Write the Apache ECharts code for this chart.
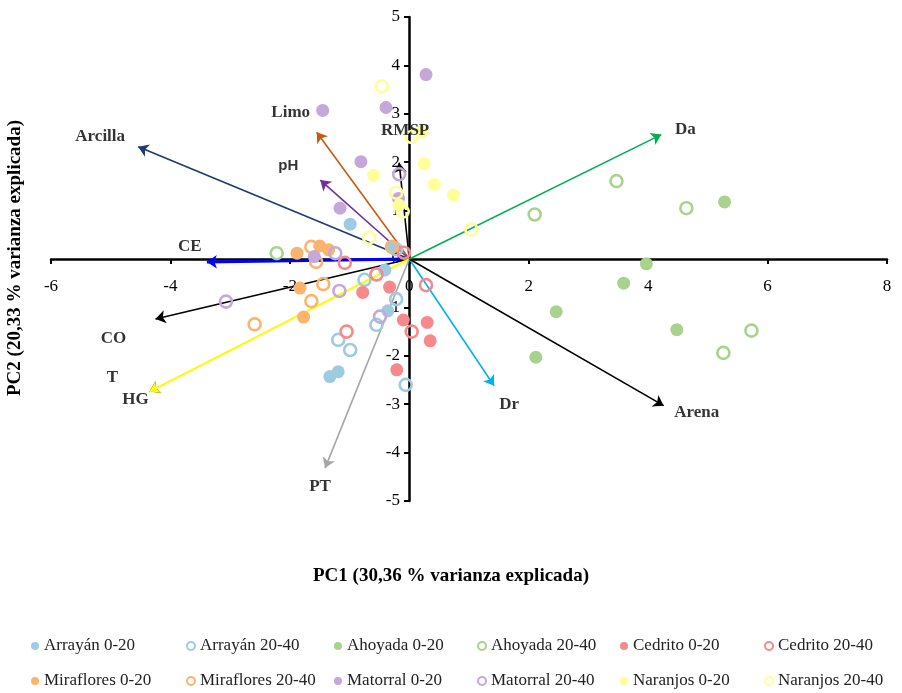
<!DOCTYPE html>
<html><head><meta charset="utf-8">
<script src="https://cdn.jsdelivr.net/npm/echarts@6/dist/echarts.min.js"></script>
<style>html,body{margin:0;padding:0;background:#fff}#c{width:902px;height:693px}</style>
</head><body><div id="c"></div>
<script>
// ---- Data (PC1, PC2 scores) ----
const arrayan020 = [[-0.99,0.72],[-0.28,0.25],[-0.41,-0.23],[-0.36,-1.07],[-1.33,-2.43],[-1.19,-2.33]];
const arrayan2040 = [[-0.22,0.20],[-0.75,-0.43],[-0.22,-0.83],[-0.55,-1.36],[-1.19,-1.67],[-0.99,-1.88],[-0.06,-2.60]];
const ahoyada020 = [[5.28,1.18],[3.97,-0.10],[3.59,-0.50],[2.46,-1.09],[4.48,-1.46],[2.12,-2.03]];
const ahoyada2040 = [[3.47,1.61],[4.64,1.05],[2.10,0.92],[5.73,-1.48],[5.26,-1.94],[-2.22,0.12]];
const cedrito020 = [[-0.78,-0.69],[-0.33,-0.58],[-0.10,-1.26],[0.30,-1.31],[0.35,-1.69],[-0.21,-2.29]];
const cedrito2040 = [[-0.09,0.13],[-1.08,-0.08],[-0.55,-0.32],[0.28,-0.54],[0.04,-1.50],[-1.05,-1.50]];
const miraflores020 = [[-1.88,0.12],[-1.50,0.27],[-1.35,0.19],[-1.83,-0.60],[-1.77,-1.20]];
const miraflores2040 = [[-1.64,0.25],[-1.56,-0.06],[-1.44,-0.52],[-1.64,-0.87],[-2.59,-1.35],[-0.29,0.25]];
const matorral020 = [[0.28,3.81],[-1.45,3.07],[-0.39,3.13],[-0.81,2.01],[-1.16,1.05],[-1.59,0.05],[-0.18,1.25]];
const matorral2040 = [[-0.17,1.75],[-1.24,0.12],[-1.17,-0.66],[-3.07,-0.88],[-0.49,-1.19]];
const naranjos020 = [[0.21,2.62],[0.25,1.97],[0.42,1.54],[0.74,1.32],[-0.60,1.73],[-0.17,1.11]];
const naranjos2040 = [[-0.46,3.57],[0.04,2.52],[-0.22,1.37],[-0.11,0.98],[-0.67,0.44],[1.04,0.61]];

// Loadings (arrow ends)
const varNames = ['Arcilla','Limo','pH','RMSP','CE','CO','T','HG','PT','Dr','Arena','Da'];
const varPC1 =   [-4.54, -1.55, -1.49, -0.17, -3.39, -4.25, -4.35, -4.35, -1.41, 1.42, 4.26, 4.22];
const varPC2 =   [ 2.32,  2.62,  1.63,  1.99, -0.06, -1.24, -2.74, -2.74, -4.32, -2.62, -3.03, 2.57];

// Axis ticks
const xTicks = [-6,-4,-2,0,2,4,6,8];
const yTicks = [-5,-4,-3,-2,-1,0,1,2,3,4,5];

// ---- Styles ----
const groups = [
  ['Arrayán 0-20', arrayan020, '#9FCBE2', true],
  ['Arrayán 20-40', arrayan2040, '#9FCBE2', false],
  ['Ahoyada 0-20', ahoyada020, '#A8D38D', true],
  ['Ahoyada 20-40', ahoyada2040, '#A8D38D', false],
  ['Cedrito 0-20', cedrito020, '#F7898C', true],
  ['Cedrito 20-40', cedrito2040, '#F7898C', false],
  ['Miraflores 0-20', miraflores020, '#FBB46C', true],
  ['Miraflores 20-40', miraflores2040, '#FBB46C', false],
  ['Matorral 0-20', matorral020, '#C4A8D9', true],
  ['Matorral 20-40', matorral2040, '#C4A8D9', false],
  ['Naranjos 0-20', naranjos020, '#FFFF99', true],
  ['Naranjos 20-40', naranjos2040, '#FFFF99', false]
];
const arrowColor = {Arcilla:'#1F3A6E',Limo:'#C55A11',pH:'#7030A0',RMSP:'#000000',CE:'#0000FF',CO:'#000000',T:'#000000',HG:'#FFFF00',PT:'#A6A6A6',Dr:'#00B0F0',Arena:'#000000',Da:'#00B050'};
const arrowWidth = {CE:3, T:1, HG:2};
const labelOffset = {Arcilla:[-38,-10],Limo:[-26,-20],pH:[-32,-14],RMSP:[6,-32],CE:[-17,-15],CO:[-42,20],T:[-37,-14],HG:[-14,8],PT:[-5,19],Dr:[15,19],Arena:[33,7],Da:[24,-5]};

const serif = '"Liberation Serif", "DejaVu Serif", serif';

const series = [];
series.push({
  type:'lines', coordinateSystem:'cartesian2d', z:2, silent:true,
  symbol:['none','arrow'], symbolSize:10,
  data: varNames.map((n,i)=>({name:n, coords:[[0,0],[varPC1[i],varPC2[i]]],
    lineStyle:{color:arrowColor[n], width:arrowWidth[n]||1.6, opacity:1}}))
});
groups.forEach(g=>{
  series.push({
    name:g[0], type:'scatter', z:4, data:g[1], symbol:'circle',
    symbolSize: g[3] ? 13 : 12,
    itemStyle: g[3] ? {color:g[2], opacity:1} : {color:'rgba(255,255,255,0)', borderColor:g[2], borderWidth:2.6, opacity:1}
  });
});
series.push({
  type:'scatter', z:5, silent:true, symbolSize:1, itemStyle:{color:'rgba(0,0,0,0)'},
  data: varNames.map((n,i)=>({name:n, value:[varPC1[i],varPC2[i]],
    label:{show:true, position:'inside', offset:labelOffset[n], formatter:'{b}',
      fontFamily: n==='pH' ? '"Liberation Sans", Arial, sans-serif' : serif,
      fontWeight:'bold', fontSize: n==='pH'?15:17, color:'#000'}}))
});

const legendCols = [35,190,338,481,624,768];
const legendRows = [646,681];
const legends = groups.map((g,i)=>({
  orient:'horizontal', left:legendCols[i%6]-4, top:legendRows[Math.floor(i/6)]-9,
  padding:0, itemWidth:8, itemHeight:8, icon:'circle', selectedMode:false,
  textStyle:{fontFamily:serif, fontSize:17, color:'#222', lineHeight:18},
  data:[g[0]]
}));

const chart = echarts.init(document.getElementById('c'));
chart.setOption({
  animation:false,
  backgroundColor:'#fff',
  grid:{left:51, right:15, top:17, bottom:192, containLabel:false},
  xAxis:{type:'value', min:xTicks[0], max:xTicks[xTicks.length-1], interval:2,
    position:'bottom', offset:-242,
    splitLine:{show:false},
    axisLine:{onZero:false, lineStyle:{color:'#000', width:2.5}},
    axisTick:{show:true, length:5, lineStyle:{color:'#000', width:2}},
    axisLabel:{margin:19, fontFamily:serif, fontSize:17, color:'#000'}},
  yAxis:{type:'value', min:yTicks[0], max:yTicks[yTicks.length-1], interval:1,
    position:'left', offset:-358,
    splitLine:{show:false},
    axisLine:{onZero:false, lineStyle:{color:'#000', width:2.5}},
    axisTick:{show:true, length:5, lineStyle:{color:'#000', width:2}},
    axisLabel:{margin:9, fontFamily:serif, fontSize:17, color:'#000'}},
  legend: legends,
  graphic:[
    {type:'text', left:'center', top:567, style:{text:'PC1 (30,36 % varianza explicada)', font:'bold 19px '+serif, fill:'#000'}},
    {type:'text', x:6, y:258, rotation:Math.PI/2, style:{text:'PC2 (20,33 % varianza explicada)', font:'bold 19px '+serif, fill:'#000', align:'center', verticalAlign:'top'}}
  ],
  series: series
});
</script></body></html>
